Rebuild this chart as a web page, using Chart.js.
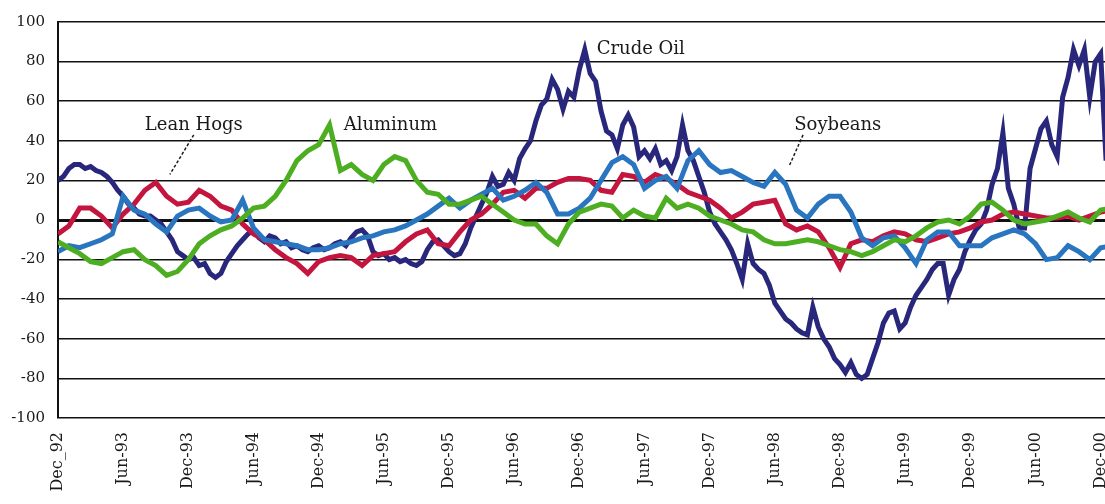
<!DOCTYPE html>
<html lang="en">
<head>
<meta charset="UTF-8">
<title>Commodity prices</title>
<script src="https://cdn.jsdelivr.net/npm/chart.js@4.4.0/dist/chart.umd.min.js"></script>
<style>
  html, body { margin: 0; padding: 0; background: #fff; }
  #wrap { width: 1105px; height: 504px; }
</style>
</head>
<body>
<div id="wrap"><canvas id="chart" width="1105" height="504"></canvas></div>
<script>
// x tick labels, one every 6 months starting Dec 1992
const tickLabels = ['Dec_92','Jun-93','Dec-93','Jun-94','Dec-94','Jun-95','Dec-95','Jun-96','Dec-96',
  'Jun-97','Dec-97','Jun-98','Dec-98','Jun-99','Dec-99','Jun-00','Dec-00'];

// crude oil, half-monthly values, index 0 = Dec-92
const crudeOil = [20,22,26,28,28,26,27,25,24,22,19,15,12,8,6,3,2,2,0,-2,-6,-10,-16,-18,
  -20,-19,-23,-22,-27,-29,-27,-21,-17,-13,-10,-7,-5,-9,-11,-8,-9,-12,-11,-14,-13,-15,-16,-14,
  -13,-15,-14,-12,-11,-13,-9,-6,-5,-8,-16,-18,-17,-20,-19,-21,-20,-22,-23,-21,-15,-11,-10,-13,
  -16,-18,-17,-12,-4,2,8,14,22,17,18,24,20,31,36,40,50,58,61,71,66,56,65,62,
  76,86,74,70,55,45,43,36,48,53,47,32,35,31,36,28,30,25,32,48,35,30,22,14,
  4,-2,-6,-10,-15,-22,-30,-12,-22,-25,-27,-33,-42,-46,-50,-52,-55,-57,-58,-44,-54,-60,-64,-70,
  -73,-77,-72,-78,-80,-78,-70,-62,-52,-47,-46,-55,-52,-44,-38,-34,-30,-25,-22,-22,-38,-30,-25,-16,
  -10,-5,-2,5,18,26,44,16,8,-4,-4,26,36,46,50,38,32,62,72,86,78,86,62,80,84,30];

// monthly values, index 0 = Dec-92
const leanHogs = [-7,-3,6,6,2,-4,3,8,15,19,12,8,9,15,12,7,5,-2,-7,-10,-15,-19,-22,-27,
  -21,-19,-18,-19,-23,-18,-17,-16,-11,-7,-5,-12,-13,-6,0,3,8,14,15,11,16,16,19,21,
  21,20,15,14,23,22,19,23,21,18,14,12,10,6,1,4,8,9,10,-2,-5,-3,-6,-14,
  -24,-12,-10,-11,-8,-6,-7,-10,-11,-9,-7,-6,-4,-1,0,3,4,3,2,1,1,2,0,2,4,5];
const aluminum = [-11,-14,-17,-21,-22,-19,-16,-15,-20,-23,-28,-26,-20,-12,-8,-5,-3,1,6,7,12,20,30,35,
  38,48,25,28,23,20,28,32,30,20,14,13,8,8,10,12,8,4,0,-2,-2,-8,-12,-2,
  4,6,8,7,1,5,2,1,11,6,8,6,2,0,-2,-5,-6,-10,-12,-12,-11,-10,-11,-13,
  -15,-16,-18,-16,-13,-10,-11,-8,-4,-1,0,-2,2,8,9,5,0,-2,-1,0,2,4,1,-1,5,6];
const soybeans = [-16,-13,-14,-12,-10,-7,12,5,3,-2,-6,2,5,6,2,-1,0,10,-4,-10,-11,-12,-13,-15,
  -15,-14,-12,-11,-9,-8,-6,-5,-3,0,3,7,11,6,10,13,16,10,12,15,19,14,3,3,
  6,11,20,29,32,28,16,20,22,16,30,35,28,24,25,22,19,17,24,18,5,1,8,12,
  12,4,-9,-13,-9,-8,-14,-22,-10,-6,-6,-13,-13,-13,-9,-7,-5,-7,-12,-20,-19,-13,-16,-20,-14,-13];
const yTicks = [-100,-80,-60,-40,-20,0,20,40,60,80,100];

// text labels placed in data units (month index, value)
const notes = [
  { text: 'Crude Oil', x: 49.6, y: 86, align: 'left' },
  { text: 'Lean Hogs', x: 12.5, y: 48, align: 'center', lead: [12.5, 43, 10.3, 23] },
  { text: 'Aluminum', x: 26.3, y: 48, align: 'left' },
  { text: 'Soybeans', x: 71.8, y: 48, align: 'center', lead: [68.6, 43, 67.3, 27] }
];

const toPts = (arr, step) => arr.map((v, i) => ({ x: i * step, y: v }));
const serif = "'DejaVu Serif', 'Liberation Serif', serif";

const notePlugin = {
  id: 'notes',
  afterDatasetsDraw(chart) {
    const ctx = chart.ctx, xs = chart.scales.x, ys = chart.scales.y;
    ctx.save();
    ctx.fillStyle = '#1a1a1a';
    ctx.strokeStyle = '#1a1a1a';
    ctx.font = '18px ' + serif;
    ctx.textBaseline = 'middle';
    notes.forEach(n => {
      ctx.textAlign = n.align;
      ctx.fillText(n.text, xs.getPixelForValue(n.x), ys.getPixelForValue(n.y));
      if (n.lead) {
        ctx.lineWidth = 1.5;
        ctx.setLineDash([3, 2]);
        ctx.beginPath();
        ctx.moveTo(xs.getPixelForValue(n.lead[0]), ys.getPixelForValue(n.lead[1]));
        ctx.lineTo(xs.getPixelForValue(n.lead[2]), ys.getPixelForValue(n.lead[3]));
        ctx.stroke();
        ctx.setLineDash([]);
      }
    });
    ctx.restore();
  }
};

function line(label, data, step, color, order) {
  return { label, data: toPts(data, step), borderColor: color, backgroundColor: color,
    borderWidth: 5, pointRadius: 0, tension: 0, fill: false, order };
}

new Chart(document.getElementById('chart'), {
  type: 'line',
  data: {
    datasets: [
      line('Aluminum', aluminum, 1, '#4dae22', 1),
      line('Soybeans', soybeans, 1, '#2a75bf', 2),
      line('Lean Hogs', leanHogs, 1, '#c3153d', 3),
      line('Crude Oil', crudeOil, 0.5, '#29277b', 4)
    ]
  },
  options: {
    responsive: false,
    animation: false,
    layout: { padding: { top: 12, right: 0, left: 0, bottom: 0 } },
    plugins: { legend: { display: false }, tooltip: { enabled: false } },
    scales: {
      x: {
        type: 'linear',
        min: 0,
        max: 96.4,
        afterBuildTicks: s => { s.ticks = tickLabels.map((t, i) => ({ value: i * 6 })); },
        afterFit: s => { s.height = 86; s.paddingLeft = 0; s.paddingRight = 0; },
        grid: { display: false, drawTicks: false },
        border: { display: false },
        ticks: {
          autoSkip: false,
          minRotation: 90,
          maxRotation: 90,
          padding: 14,
          color: '#1a1a1a',
          font: { family: serif, size: 16 },
          callback: v => tickLabels[Math.round(v / 6)]
        }
      },
      y: {
        min: -100,
        max: 100,
        afterBuildTicks: s => { s.ticks = yTicks.map(v => ({ value: v })); },
        afterFit: s => { s.width = 58; },
        grid: {
          color: '#111',
          lineWidth: c => (c.tick && c.tick.value === 0 ? 3 : 1.6),
          drawTicks: false
        },
        border: { display: true, color: '#111', width: 2 },
        ticks: {
          padding: 13,
          color: '#1a1a1a',
          font: { family: serif, size: 15 }
        }
      }
    }
  },
  plugins: [notePlugin]
});
</script>
</body>
</html>
